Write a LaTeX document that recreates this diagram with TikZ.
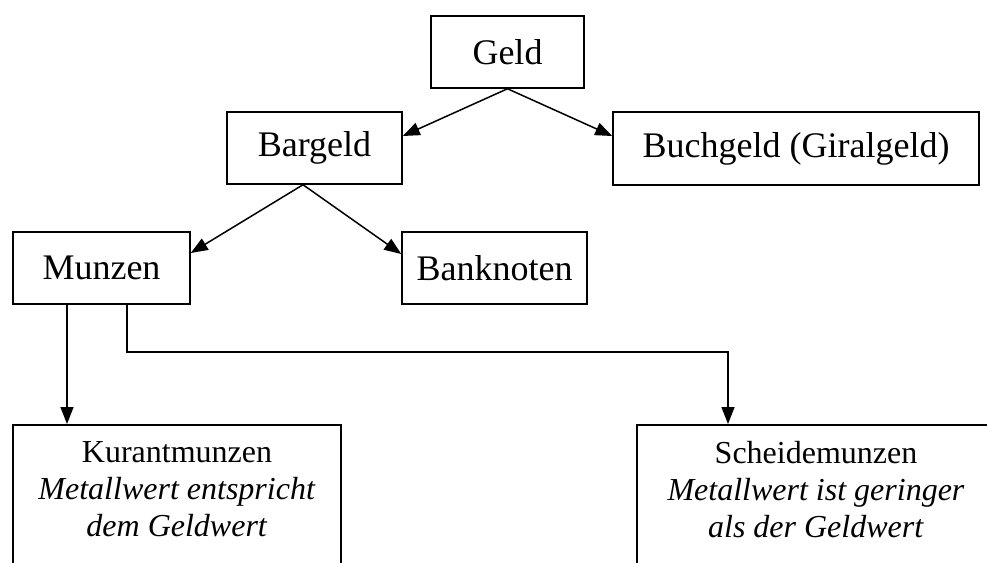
\documentclass[tikz,border=0pt]{standalone}
\usepackage{fontspec}
\setmainfont{Liberation Serif}
\usetikzlibrary{arrows.meta}

\begin{document}
\begin{tikzpicture}[
	>={Triangle[length=17pt,width=13pt]},
	line width=1.5pt,
	x=1pt,y=-1pt,
	font=\fontsize{36}{36}\selectfont,
	box/.style={draw, inner sep=0pt},
	lowbox/.style={draw, inner sep=0pt, anchor=north, minimum height=240pt},
	lowtext/.style={inner sep=0pt, anchor=north, align=center, font=\fontsize{32}{37}\selectfont}
	]
	% page
\clip (0,0) rectangle (987,562);

			\node[box, minimum width=153pt, minimum height=72pt] (geld)   at (507.5, 52) {Geld};
			\node[box, minimum width=175pt, minimum height=72pt] (bargeld)   at (314.5, 148) {Bargeld};
			\node[box, minimum width=366pt, minimum height=73pt] (buchgeld)   at (796, 148.5) {Buchgeld (Giralgeld)};
			\node[box, minimum width=177pt, minimum height=72pt] (munzen)   at (101.5, 268) {Munzen};
			\node[box, minimum width=185pt, minimum height=72pt] (banknoten)   at (494.5, 268) {Banknoten};
			\node[lowbox, minimum width=328pt] (kurant)   at (177, 424) {};
			\node[lowbox, minimum width=358pt] (scheide)   at (816, 424) {};
			\node[lowtext] (kurant_text)   at ([yshift=-17pt]kurant.north) {Kurantmunzen\\\textit{Metallwert entspricht}\\\textit{dem Geldwert}};
			\node[lowtext] (scheide_text)   at ([yshift=-17pt]scheide.north) {Scheidemunzen\\\textit{Metallwert ist geringer}\\\textit{als der Geldwert}};

			\draw[->] (geld.south) -- ([yshift=12pt]bargeld.east);
			\draw[->] (geld.south) -- ([yshift=12.5pt]buchgeld.west);
			\draw[->] ([xshift=-11.5pt]bargeld.south) -- ([yshift=15pt]munzen.east);
			\draw[->] ([xshift=-11.5pt]bargeld.south) -- ([yshift=14pt]banknoten.west);
			\draw[->] ([xshift=-34.5pt]munzen.south) -- ([xshift=-34.5pt]munzen.south |- kurant.north);
			\draw[->] ([xshift=25.5pt]munzen.south) |- ([xshift=-88pt]scheide.north |- 0,352) -- ([xshift=-88pt]scheide.north);

\end{tikzpicture}
\end{document}
